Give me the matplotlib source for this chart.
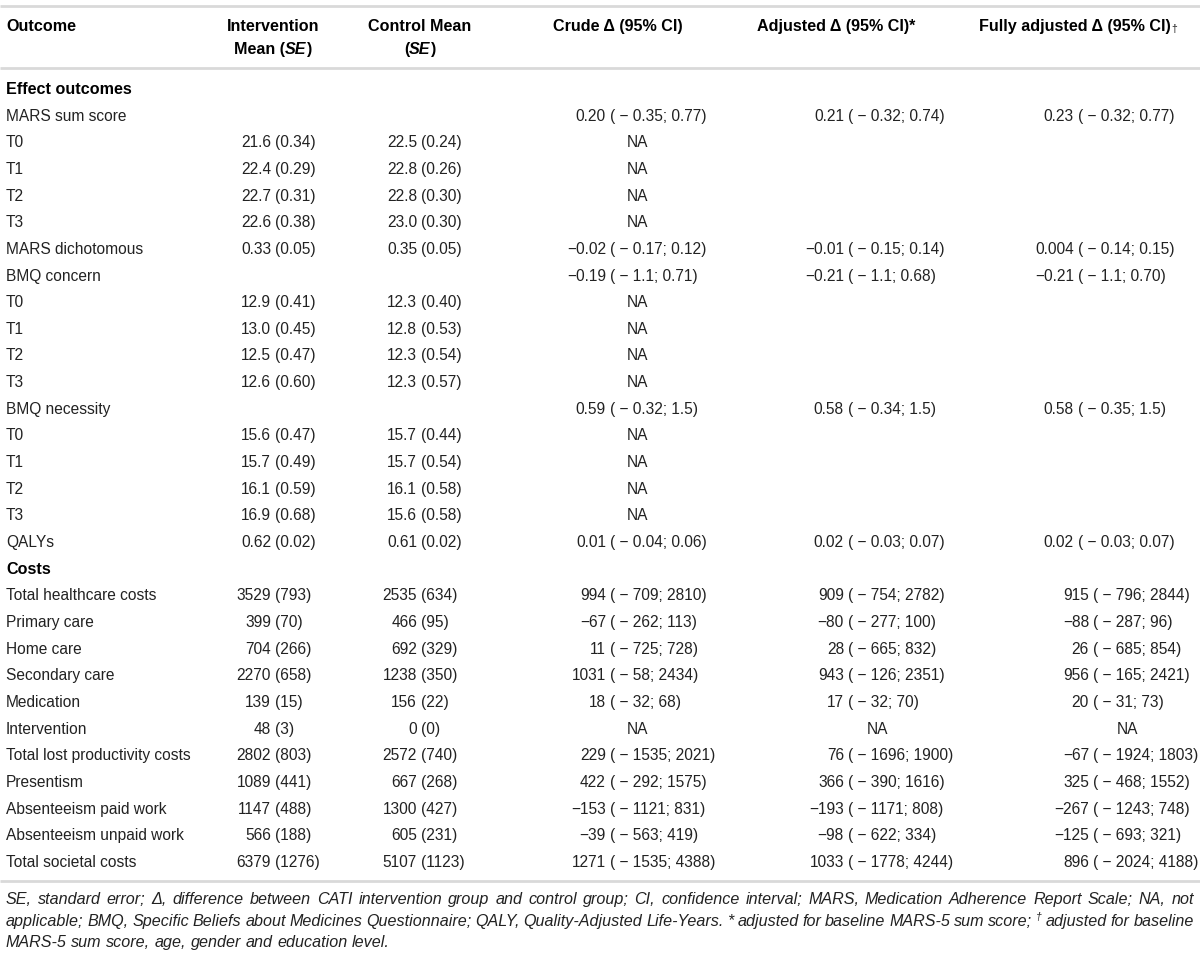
import matplotlib
matplotlib.use('Agg')
import matplotlib.pyplot as plt

# ---- table data ----
effect_labels = ["MARS sum score", "T0", "T1", "T2", "T3", "MARS dichotomous",
                 "BMQ concern", "T0", "T1", "T2", "T3", "BMQ necessity",
                 "T0", "T1", "T2", "T3", "QALYs"]
effect_int = ["", "21.6 (0.34)", "22.4 (0.29)", "22.7 (0.31)", "22.6 (0.38)", "0.33 (0.05)",
              "", "12.9 (0.41)", "13.0 (0.45)", "12.5 (0.47)", "12.6 (0.60)",
              "", "15.6 (0.47)", "15.7 (0.49)", "16.1 (0.59)", "16.9 (0.68)", "0.62 (0.02)"]
effect_ctrl = ["", "22.5 (0.24)", "22.8 (0.26)", "22.8 (0.30)", "23.0 (0.30)", "0.35 (0.05)",
               "", "12.3 (0.40)", "12.8 (0.53)", "12.3 (0.54)", "12.3 (0.57)",
               "", "15.7 (0.44)", "15.7 (0.54)", "16.1 (0.58)", "15.6 (0.58)", "0.61 (0.02)"]
effect_crude = ["0.20 ( \u2212 0.35; 0.77)", "NA", "NA", "NA", "NA", "\u22120.02 ( \u2212 0.17; 0.12)",
                "\u22120.19 ( \u2212 1.1; 0.71)", "NA", "NA", "NA", "NA",
                "0.59 ( \u2212 0.32; 1.5)", "NA", "NA", "NA", "NA", "0.01 ( \u2212 0.04; 0.06)"]
effect_adj = ["0.21 ( \u2212 0.32; 0.74)", "", "", "", "", "\u22120.01 ( \u2212 0.15; 0.14)",
              "\u22120.21 ( \u2212 1.1; 0.68)", "", "", "", "",
              "0.58 ( \u2212 0.34; 1.5)", "", "", "", "", "0.02 ( \u2212 0.03; 0.07)"]
effect_full = ["0.23 ( \u2212 0.32; 0.77)", "", "", "", "", "0.004 ( \u2212 0.14; 0.15)",
               "\u22120.21 ( \u2212 1.1; 0.70)", "", "", "", "",
               "0.58 ( \u2212 0.35; 1.5)", "", "", "", "", "0.02 ( \u2212 0.03; 0.07)"]

cost_labels = ["Total healthcare costs", "Primary care", "Home care", "Secondary care",
               "Medication", "Intervention", "Total lost productivity costs", "Presentism",
               "Absenteeism paid work", "Absenteeism unpaid work", "Total societal costs"]
cost_int = ["3529 (793)", "399 (70)", "704 (266)", "2270 (658)", "139 (15)", "48 (3)",
            "2802 (803)", "1089 (441)", "1147 (488)", "566 (188)", "6379 (1276)"]
cost_ctrl = ["2535 (634)", "466 (95)", "692 (329)", "1238 (350)", "156 (22)", "0 (0)",
             "2572 (740)", "667 (268)", "1300 (427)", "605 (231)", "5107 (1123)"]
cost_crude = ["994 ( \u2212 709; 2810)", "\u221267 ( \u2212 262; 113)", "11 ( \u2212 725; 728)",
              "1031 ( \u2212 58; 2434)", "18 ( \u2212 32; 68)", "NA", "229 ( \u2212 1535; 2021)",
              "422 ( \u2212 292; 1575)", "\u2212153 ( \u2212 1121; 831)", "\u221239 ( \u2212 563; 419)",
              "1271 ( \u2212 1535; 4388)"]
cost_adj = ["909 ( \u2212 754; 2782)", "\u221280 ( \u2212 277; 100)", "28 ( \u2212 665; 832)",
            "943 ( \u2212 126; 2351)", "17 ( \u2212 32; 70)", "NA", "76 ( \u2212 1696; 1900)",
            "366 ( \u2212 390; 1616)", "\u2212193 ( \u2212 1171; 808)", "\u221298 ( \u2212 622; 334)",
            "1033 ( \u2212 1778; 4244)"]
cost_full = ["915 ( \u2212 796; 2844)", "\u221288 ( \u2212 287; 96)", "26 ( \u2212 685; 854)",
             "956 ( \u2212 165; 2421)", "20 ( \u2212 31; 73)", "NA", "\u221267 ( \u2212 1924; 1803)",
             "325 ( \u2212 468; 1552)", "\u2212267 ( \u2212 1243; 748)", "\u2212125 ( \u2212 693; 321)",
             "896 ( \u2212 2024; 4188)"]

footnote = [
    "SE, standard error; \u0394, difference between CATI intervention group and control group; "
    "CI, confidence interval; MARS, Medication Adherence Report Scale; NA, not",
    "applicable; BMQ, Specific Beliefs about Medicines Questionnaire; QALY, Quality-Adjusted "
    "Life-Years. * adjusted for baseline MARS-5 sum score; \u2020 adjusted for baseline",
    "MARS-5 sum score, age, gender and education level.",
]

# ---- layout ----
W, H = 1200, 955
FAM = 'Liberation Sans'
FS = 11.2
HS = 11.6
INK = '#222222'
RULE = '#d9d9d9'

fig = plt.figure(figsize=(12, 9.55), dpi=100)
ax = fig.add_axes([0, 0, 1, 1])
ax.set_xlim(0, W)
ax.set_ylim(H, 0)
ax.axis('off')
renderer = fig.canvas.get_renderer()


def put(x, y, s, ha='left', size=FS, color=INK, **kw):
    return ax.text(x, y, s, ha=ha, va='baseline', fontsize=size, family=FAM,
                   color=color, **kw)


def wid(t):
    return t.get_window_extent(renderer).width


def runs(x, y, parts, ha='left'):
    texts = []
    for s, st in parts:
        st = dict(st)
        dy = st.pop('dy', 0)
        texts.append(put(0, y + dy, s, **st))
    ws = [wid(t) for t in texts]
    x0 = x - sum(ws) / 2 if ha == 'center' else x
    for t, w in zip(texts, ws):
        t.set_x(x0)
        x0 += w


def cell(s, y, paren_x, na_x):
    # numbers right-aligned, the bracket part starts at a fixed x
    if not s:
        return
    if s == "NA":
        put(na_x, y, s, ha='center')
        return
    num, rest = s.split(" (", 1)
    put(paren_x - 4, y, num, ha='right')
    put(paren_x, y, "(" + rest, ha='left')


BL = 5.6  # baseline offset from row centre
B = dict(weight='bold', color='black', size=HS)
BI = dict(weight='bold', style='italic', color='black', size=HS)

# header
ax.hlines([6, 68, 881], 0, W, colors=RULE, lw=2)
h1, h2 = 25 + BL, 48 + BL
put(6, h1, "Outcome", **B)
runs(273, h1, [("Intervention", B)], ha='center')
runs(273, h2, [("Mean (", B), ("SE", BI), (")", B)], ha='center')
runs(420, h1, [("Control Mean", B)], ha='center')
runs(420, h2, [("(", B), ("SE", BI), (")", B)], ha='center')
runs(618, h1, [("Crude \u0394 (95% CI)", B)], ha='center')
runs(836, h1, [("Adjusted \u0394 (95% CI)*", B)], ha='center')
runs(1078, h1, [("Fully adjusted \u0394 (95% CI)", B),
                ("\u2020", dict(size=7.5, color=INK, dy=1))], ha='center')

# body rows
y0, step = 115, 26.65
put(6, y0 - step + BL, "Effect outcomes", **B)
for i, lab in enumerate(effect_labels):
    y = y0 + i * step + BL
    put(6, y, lab)
    cell(effect_int[i], y, 275, 290)
    cell(effect_ctrl[i], y, 421, 436)
    cell(effect_crude[i], y, 610, 638)
    cell(effect_adj[i], y, 848, 877)
    cell(effect_full[i], y, 1078, 1127)

base = len(effect_labels)
put(6, y0 + base * step + BL, "Costs", **B)
for j, lab in enumerate(cost_labels):
    y = y0 + (base + 1 + j) * step + BL
    put(6, y, lab)
    cell(cost_int[j], y, 275, 290)
    cell(cost_ctrl[j], y, 421, 436)
    cell(cost_crude[j], y, 610, 638)
    cell(cost_adj[j], y, 848, 877)
    cell(cost_full[j], y, 1093, 1127)

# footnote, justified like the journal layout
FN = 11.6
left, right = 6, 1194
for k, line in enumerate(footnote):
    y = 899 + k * 21.5 + 5
    items = []
    for w in line.split(" "):
        if w == "\u2020":
            t = ax.text(0, y - 6, w, ha='left', va='baseline', fontsize=7.5,
                        family=FAM, style='italic', color=INK)
        else:
            t = ax.text(0, y, w, ha='left', va='baseline', fontsize=FN,
                        family=FAM, style='italic', color=INK)
        items.append(t)
    ws = [wid(t) for t in items]
    if k < len(footnote) - 1:
        gap = (right - left - sum(ws)) / (len(items) - 1)
    else:
        gap = 4.5
    x = left
    for t, w in zip(items, ws):
        t.set_x(x)
        x += w + gap

fig.savefig("out.png", dpi=100)
